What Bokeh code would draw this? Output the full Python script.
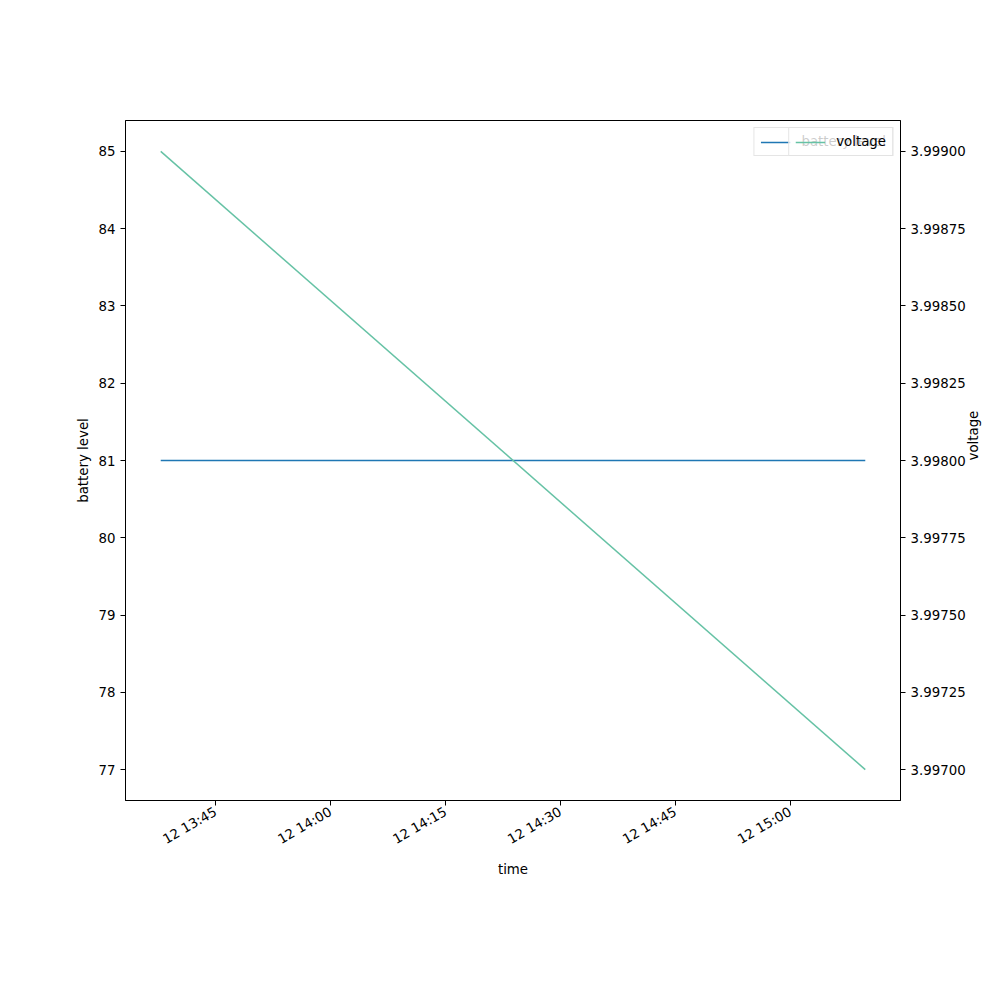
from datetime import datetime, timedelta
from bokeh.plotting import figure
from bokeh.models import (Range1d, LinearAxis, FixedTicker, DatetimeTickFormatter,
                          PrintfTickFormatter, Legend, LegendItem)
from bokeh.embed import file_html
from bokeh.resources import INLINE
import math

# data
times = [datetime(2023, 6, 12, 13, 37, 50), datetime(2023, 6, 12, 15, 9, 47)]
battery = [81, 81]
voltage = [3.999, 3.997]

left_ticks = [77, 78, 79, 80, 81, 82, 83, 84, 85]
right_ticks = [3.997, 3.99725, 3.9975, 3.99775, 3.998, 3.99825, 3.9985, 3.99875, 3.999]
x_ticks = [datetime(2023, 6, 12, 13, 45) + timedelta(minutes=15 * i) for i in range(6)]

FONT = "DejaVu Sans"
FS = "13.33px"

span = times[-1] - times[0]
x_range = Range1d(times[0] - span * 0.05, times[-1] + span * 0.05)

p = figure(width=992, height=992, x_axis_type="datetime", x_range=x_range,
           y_range=Range1d(76.6, 85.4), output_backend="svg", toolbar_location=None,
           min_border_left=125, min_border_right=92, min_border_top=120, min_border_bottom=192)
p.extra_y_ranges = {"volt": Range1d(3.9969, 3.9991)}

p.xgrid.visible = False
p.ygrid.visible = False
p.outline_line_color = "black"
p.outline_line_width = 1
p.background_fill_color = "white"
p.border_fill_color = "white"

r1 = p.line(times, battery, line_color="#1f77b4", line_width=1.5)
r2 = p.line(times, voltage, line_color="#66c2a5", line_width=1.5, y_range_name="volt")

def style(ax):
    ax.axis_line_color = "black"
    ax.major_tick_line_color = "black"
    ax.major_tick_out = 5
    ax.major_tick_in = 0
    ax.minor_tick_line_color = None
    ax.major_label_text_font = FONT
    ax.major_label_text_font_size = FS
    ax.major_label_text_color = "black"
    ax.axis_label_text_font = FONT
    ax.axis_label_text_font_size = FS
    ax.axis_label_text_font_style = "normal"
    ax.axis_label_text_color = "black"

epoch = datetime(1970, 1, 1)
xa = p.xaxis[0]
style(xa)
xa.ticker = FixedTicker(ticks=[(t - epoch).total_seconds() * 1000 for t in x_ticks])
fmt = "%d %H:%M"
xa.formatter = DatetimeTickFormatter(microseconds=fmt, milliseconds=fmt, seconds=fmt, minsec=fmt,
                                     minutes=fmt, hourmin=fmt, hours=fmt, days=fmt,
                                     months=fmt, years=fmt)
xa.major_label_orientation = math.pi / 6
xa.axis_label = "time"
xa.axis_label_standoff = 6

ya = p.yaxis[0]
style(ya)
ya.ticker = FixedTicker(ticks=left_ticks)
ya.axis_label = "battery level"

ra = LinearAxis(y_range_name="volt", axis_label="voltage")
style(ra)
ra.ticker = FixedTicker(ticks=right_ticks)
ra.formatter = PrintfTickFormatter(format="%.5f")
ra.axis_label_orientation = math.pi / 2
p.add_layout(ra, "right")

def mklegend(label, r):
    lg = Legend(items=[LegendItem(label=label, renderers=[r])], location="top_right",
                margin=7, padding=6, spacing=0, glyph_width=30, glyph_height=14,
                label_height=14, label_standoff=11,
                label_text_font=FONT, label_text_font_size=FS, label_text_color="black",
                border_line_color="#cccccc", border_line_width=1,
                background_fill_color="white", background_fill_alpha=0.8)
    return lg

p.add_layout(mklegend("battery level", r1), "center")
p.add_layout(mklegend("voltage", r2), "center")

open("out.html", "w").write(file_html(p, INLINE))
